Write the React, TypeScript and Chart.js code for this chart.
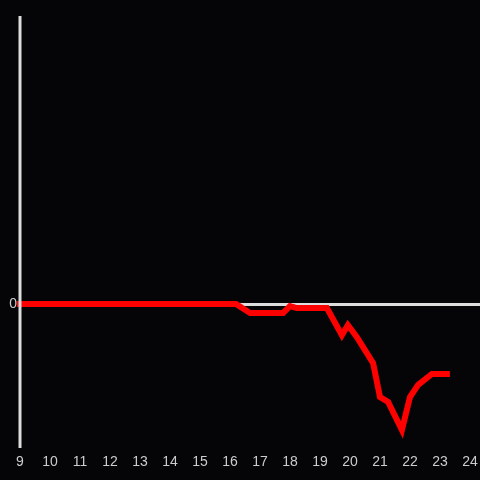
import React, { useEffect, useRef } from "react";
import { Chart, registerables } from "chart.js";

Chart.register(...registerables);

const times: number[] = [9, 16.2, 16.67, 17.77, 18.0, 18.23, 19.23, 19.73, 19.93, 20.23, 20.77, 21.0, 21.27, 21.73, 22.0, 22.27, 22.73, 23.23];
const values: number[] = [0, 0, -3.1, -3.1, -0.7, -1.4, -1.4, -10.8, -7.3, -11.5, -20.5, -32.3, -34, -43.75, -32.3, -28.1, -24.3, -24.3];
const xTicks: number[] = [9, 10, 11, 12, 13, 14, 15, 16, 17, 18, 19, 20, 21, 22, 23, 24];

export default function App() {
  const ref = useRef<HTMLCanvasElement>(null);
  useEffect(() => {
    if (!ref.current) return;
    const chart = new Chart(ref.current, {
      type: "line",
      data: {
        datasets: [
          {
            data: times.map((t, i) => ({ x: t, y: values[i] })),
            borderColor: "#ff0000",
            borderWidth: 6,
            pointRadius: 0,
            tension: 0,
            fill: false,
            clip: false,
            borderCapStyle: "square",
            borderJoinStyle: "miter",
          },
        ],
      },
      options: {
        animation: false,
        responsive: false,
        maintainAspectRatio: false,
        layout: { padding: { top: 16, right: 0, left: 0, bottom: 0 } },
        plugins: { legend: { display: false }, tooltip: { enabled: false } },
        scales: {
          x: {
            type: "linear",
            min: 9,
            max: 24.333,
            afterBuildTicks: (scale: any) => {
              scale.ticks = xTicks.map((v) => ({ value: v }));
            },
            afterFit: (scale: any) => {
              scale.height = 32;
              scale.paddingRight = 0;
              scale.paddingLeft = 0;
            },
            grid: { display: false, drawTicks: false },
            border: { display: false },
            ticks: {
              color: "#cccccc",
              font: { family: "Liberation Sans, Arial, sans-serif", size: 14 },
              padding: 6,
              maxRotation: 0,
              autoSkip: false,
              callback: (v: any) => String(v),
            },
          },
          y: {
            min: -50,
            max: 100,
            afterFit: (scale: any) => {
              scale.width = 20;
            },
            ticks: {
              stepSize: 50,
              color: "#cccccc",
              font: { family: "Liberation Sans, Arial, sans-serif", size: 14 },
              padding: 3,
              callback: (v: any) => (v === 0 ? "0" : ""),
            },
            grid: {
              drawTicks: false,
              lineWidth: 3,
              color: (ctx: any) => (ctx.tick && ctx.tick.value === 0 ? "#dddddd" : "rgba(0,0,0,0)"),
            },
            border: { display: false },
          },
        },
      },
      plugins: [
        {
          id: "bg",
          beforeDraw: (c: any) => {
            const ctx = c.ctx;
            ctx.save();
            ctx.fillStyle = "#050407";
            ctx.fillRect(0, 0, c.width, c.height);
            ctx.restore();
          },
          afterDatasetsDraw: (c: any) => {
            const ctx = c.ctx;
            const a = c.chartArea;
            ctx.save();
            ctx.strokeStyle = "#dddddd";
            ctx.lineWidth = 3;
            ctx.beginPath();
            ctx.moveTo(a.left, a.top);
            ctx.lineTo(a.left, a.bottom);
            ctx.stroke();
            ctx.restore();
          },
        },
      ],
    });
    return () => chart.destroy();
  }, []);
  return (
    <div style={{ position: "fixed", left: 0, top: 0, width: 480, height: 480, background: "#050407" }}>
      <canvas ref={ref} width={480} height={480} style={{ display: "block" }} />
    </div>
  );
}
